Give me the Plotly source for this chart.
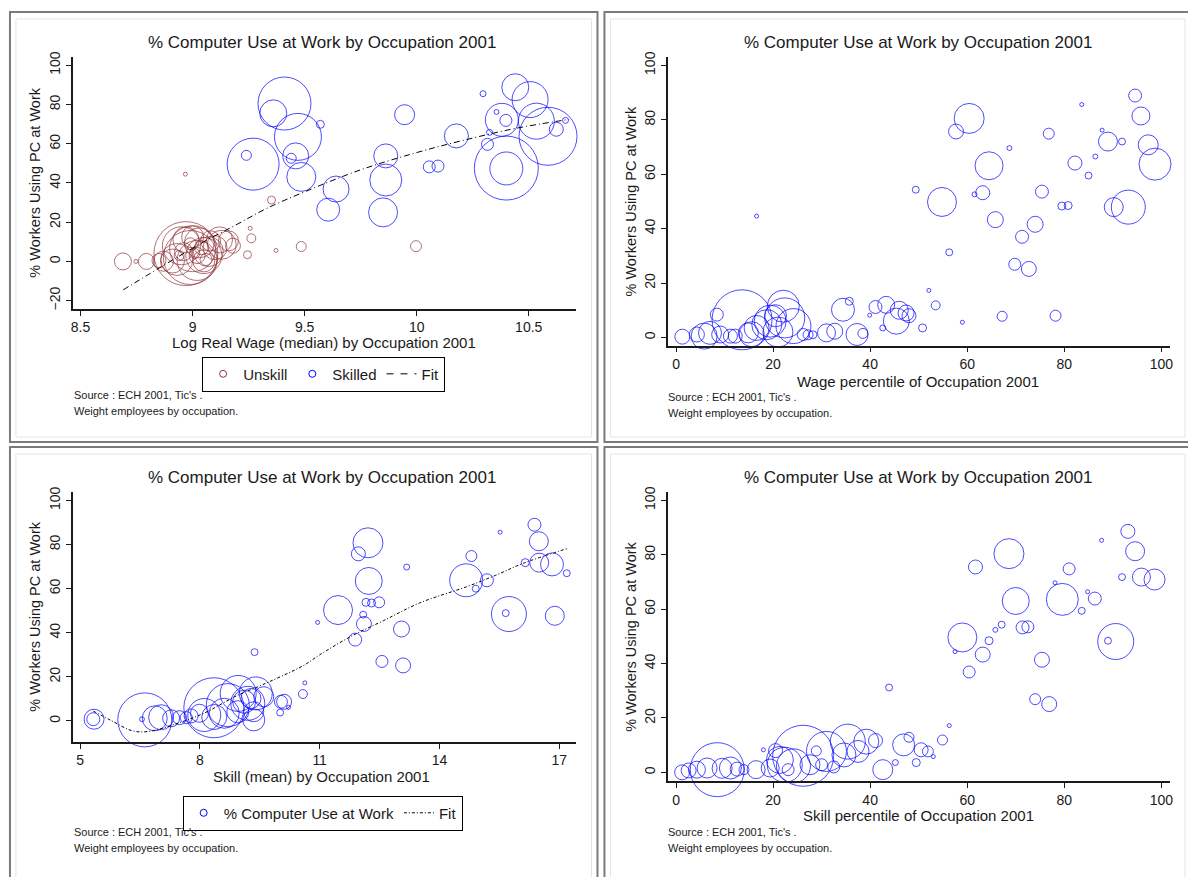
import plotly.graph_objects as go

W, H = 1188, 877
FONT = "Liberation Sans, Arial, sans-serif"
MAROON = "#90353b"
BLUE = "#0000ff"
INK = "#1a1a1a"

# ---------------- Panel 1: log real wage (split by skill group) ----------------
tl_sk_x = [9.41, 9.36, 9.47, 9.57, 9.27, 9.24, 9.46, 9.44, 9.485, 9.64,
           9.605, 9.862, 9.862, 9.85, 9.946, 10.056, 10.095, 10.177, 10.296, 10.356,
           10.44, 10.506, 10.38, 10.398, 10.534, 10.586, 10.40, 10.40, 10.623, 10.664,
           10.325, 10.316]
tl_sk_y = [80.5, 75.5, 63.5, 69.9, 49.6, 54.1, 53.8, 52.6, 43.1, 36.9,
           26.4, 53.8, 41.5, 25.0, 74.8, 48.2, 48.6, 64.0, 85.5, 76.2,
           88.8, 82.5, 72.2, 71.9, 71.5, 63.8, 47.6, 47.4, 67.4, 71.9,
           65.8, 59.7]
tl_sk_w = [702, 182, 552, 16, 676, 25, 169, 25, 210, 169,
           132, 144, 256, 210, 100, 36, 36, 144, 9, 6,
           182, 324, 272, 36, 324, 841, 1024, 272, 49, 9,
           9, 36]

tl_un_x = [8.968, 9.352, 9.257, 9.262, 9.245, 9.372, 9.485, 9.997, 8.689, 8.747,
           8.794, 8.97, 8.99, 9.00, 9.02, 8.95, 9.05, 8.93, 9.03, 9.07,
           8.97, 9.10, 8.91, 9.00, 9.05, 9.08, 8.96, 9.02, 9.04, 8.99,
           9.06, 9.01, 8.94, 9.12, 9.13, 9.18, 9.16, 8.87, 8.85]
tl_un_y = [44.5, 31.3, 16.9, 11.8, 3.4, 5.6, 7.6, 7.8, 0.0, 0.0,
           0.0, 4.0, 2.0, 6.5, 0.5, 8.0, 3.0, 1.0, 9.5, 5.0,
           11.0, 7.0, 0.2, 12.5, 0.3, 10.5, 5.0, 3.0, 7.0, 9.0,
           1.0, 4.0, 3.0, 11.0, 8.5, 8.0, 10.5, 0.1, 0.5]
tl_un_w = [4, 16, 4, 20, 16, 4, 25, 30, 72, 4,
           64, 1024, 729, 529, 400, 361, 324, 256, 225, 225,
           169, 144, 144, 121, 121, 100, 81, 64, 49, 36,
           36, 25, 25, 169, 210, 56, 100, 100, 49]

tl_fit_x = [8.69, 8.9, 9.05, 9.2, 9.33, 9.5, 9.75, 10.0, 10.2, 10.44, 10.68]
tl_fit_y = [-14.5, 0.0, 10.0, 19.0, 27.0, 35.5, 46.7, 55.5, 61.5, 67.8, 72.4]

# ---------------- Panel 2: wage percentile ----------------
tr_x = [60.4, 57.7, 68.7, 64.5, 63.2, 61.5, 49.4, 54.8, 65.8, 56.3,
        71.3, 74.0, 69.8, 72.7, 75.4, 76.8, 79.5, 80.8, 82.2, 83.6,
        85.0, 86.4, 87.8, 89.0, 91.9, 90.2, 93.2, 94.6, 95.8, 97.3,
        98.7, 16.6, 52.1, 53.5, 50.8, 59.0, 67.2, 78.2,
        1.3, 4.3, 5.8, 7.0, 8.4, 9.1, 11.2, 12.2, 13.6, 14.9,
        15.6, 16.6, 18.7, 19.4, 22.1, 22.4, 24.2, 21.0, 20.5, 26.2,
        27.2, 28.2, 31.0, 32.7, 34.4, 35.7, 37.3, 38.5, 39.9, 41.1,
        43.3, 42.6, 45.4, 46.0, 47.4, 48.0]
tr_y = [80.5, 75.7, 69.6, 63.1, 53.2, 52.6, 54.3, 49.8, 43.3, 31.3,
        37.0, 41.6, 26.9, 25.2, 53.6, 74.9, 48.3, 48.5, 64.1, 85.6,
        59.5, 66.5, 76.2, 72.0, 72.0, 47.9, 47.9, 88.9, 81.4, 70.8,
        63.7, 44.6, 17.3, 11.8, 3.5, 5.6, 7.8, 8.0,
        0.3, 1.1, 0.5, 1.7, 8.4, 1.1, 0.5, 0.5, 6.5, 1.7,
        1.2, 3.5, 4.7, 6.0, 11.5, 7.2, 4.2, 2.0, 8.0, 1.1,
        1.0, 1.0, 1.7, 2.3, 10.2, 13.3, 1.1, 1.5, 8.2, 11.2,
        12.0, 3.5, 6.0, 10.0, 9.0, 8.0]
tr_w = [225, 56, 6, 196, 49, 6, 12, 210, 64, 12,
        42, 64, 36, 56, 42, 30, 16, 16, 49, 4,
        12, 6, 2, 90, 12, 90, 289, 42, 81, 100,
        256, 2, 2, 20, 16, 2, 25, 30,
        56, 56, 169, 132, 42, 72, 49, 49, 900, 100,
        156, 156, 225, 256, 256, 400, 306, 225, 121, 36,
        25, 16, 81, 64, 132, 16, 121, 25, 2, 42,
        72, 9, 169, 81, 64, 49]

# ---------------- Panel 3: mean skill ----------------
bl_x = [16.38, 16.49, 15.52, 14.80, 16.15, 16.50, 16.82, 17.19, 14.67, 15.19,
        14.91, 15.74, 15.66, 16.89, 12.21, 11.97, 12.23, 13.18, 12.16, 12.30,
        12.49, 12.09, 12.11, 11.46, 11.89, 10.95, 13.05, 12.56, 13.09, 9.37,
        10.63, 10.58, 10.11, 10.01, 10.22,
        5.35, 5.33, 6.62, 6.55, 6.87, 7.03, 7.28, 7.49, 7.66, 7.78,
        7.99, 8.35, 8.11, 8.36, 8.61, 8.70, 8.95, 9.28, 9.40, 9.11,
        9.35, 9.60, 9.35, 10.03, 8.96, 9.20]
bl_y = [89.0, 81.5, 85.6, 74.8, 71.8, 71.8, 71.0, 67.0, 63.8, 63.8,
        60.0, 48.5, 48.9, 47.7, 80.8, 75.8, 63.5, 69.8, 53.8, 53.5,
        53.8, 48.2, 44.0, 50.3, 36.9, 44.7, 41.7, 27.0, 25.2, 31.2,
        17.3, 12.2, 8.7, 3.8, 6.2,
        0.8, 0.8, 0.5, 0.8, 1.2, 1.7, 1.2, 1.5, 1.5, 2.3,
        3.5, 6.0, 2.7, 1.8, 3.5, 7.2, 4.2, 10.2, 12.5, 8.7,
        4.2, 11.0, 0.5, 8.7, 12.5, 8.0]
bl_w = [42, 90, 4, 30, 16, 90, 132, 12, 272, 42,
        12, 306, 12, 90, 225, 49, 182, 9, 16, 16,
        30, 12, 56, 210, 42, 2, 64, 36, 56, 12,
        4, 20, 56, 12, 4,
        100, 42, 729, 6, 156, 156, 72, 49, 36, 49,
        81, 900, 272, 156, 225, 462, 121, 100, 272, 132,
        100, 100, 121, 42, 324, 289]

bl_fit_x = [5.33, 5.8, 6.3, 6.7, 7.45, 8.1, 8.95, 9.45, 10.6, 11.0,
            11.8, 12.6, 13.5, 14.7, 15.4, 16.1, 17.2]
bl_fit_y = [4.5, 0.0, -4.4, -4.8, -1.0, 3.5, 11.7, 15.5, 25.2, 30.0,
            38.5, 45.5, 53.5, 61.0, 66.0, 71.5, 78.2]

# ---------------- Panel 4: skill percentile ----------------
br_x = [68.6, 61.7, 93.1, 94.6, 87.7, 81.0, 78.1, 91.9, 95.9, 98.6,
        70.0, 79.6, 86.3, 84.8, 83.6, 71.4, 72.5, 67.1, 65.8, 64.5,
        59.0, 57.5, 63.2, 60.4, 75.4, 90.6, 89.0, 74.0, 76.9, 43.9,
        56.3, 54.9, 51.9, 50.5, 49.5, 53.0, 48.0, 46.9, 45.2, 42.6,
        41.1, 39.2, 37.5, 35.4, 34.6, 32.5, 31.0, 30.0, 28.9, 27.6,
        26.2, 24.2, 23.1, 22.4, 21.4, 20.5, 19.4, 18.0, 16.5, 14.0,
        12.6, 11.2, 9.5, 8.5, 6.4, 4.3, 2.6, 1.25]
br_y = [80.4, 75.5, 88.6, 81.3, 85.3, 74.8, 69.7, 71.8, 71.8, 70.9,
        63.0, 63.6, 63.9, 66.4, 59.4, 53.3, 53.5, 54.3, 52.4, 48.4,
        49.6, 44.4, 43.3, 36.9, 41.4, 48.1, 48.4, 26.9, 25.1, 31.2,
        17.2, 11.9, 7.7, 8.3, 3.6, 5.8, 12.9, 10.1, 3.6, 1.0,
        11.7, 11.3, 7.7, 11.3, 6.4, 2.0, 7.7, 2.8, 7.9, 2.8,
        6.1, 2.4, 1.0, 2.8, 4.6, 8.0, 1.6, 8.3, 1.0, 1.0,
        1.2, 1.6, 1.5, 1.0, 1.6, 1.0, 0.7, 0.0]
br_w = [225, 49, 49, 90, 2, 36, 4, 12, 81, 110,
        182, 256, 42, 2, 12, 42, 36, 12, 6, 16,
        210, 2, 56, 36, 56, 324, 12, 30, 56, 12,
        2, 25, 30, 49, 16, 4, 25, 121, 9, 100,
        49, 156, 121, 306, 144, 36, 400, 36, 25, 100,
        930, 289, 36, 306, 182, 49, 81, 2, 81, 25,
        49, 121, 100, 729, 100, 72, 56, 56]

# ---------------- text ----------------
title_txt = "% Computer Use at Work by Occupation 2001"
ytitle_txt = "% Workers Using PC at Work"
xtitles = ["Log Real Wage (median) by Occupation 2001",
           "Wage percentile of Occupation 2001",
           "Skill (mean) by Occupation 2001",
           "Skill percentile of Occupation 2001"]
note1 = "Source : ECH 2001, Tic's ."
note2 = "Weight employees by occupation."

def px(x):
    return x / W

def py(y):
    return 1 - y / H

fig = go.Figure()

def bubbles(x, y, w, color, xa, ya):
    fig.add_trace(go.Scatter(
        x=x, y=y, mode="markers", xaxis=xa, yaxis=ya, showlegend=False,
        cliponaxis=False, hoverinfo="skip",
        marker=dict(symbol="circle-open", size=w, sizemode="area", sizeref=0.5,
                    sizemin=2, color=color, line=dict(width=1, color=color))))

def fitline(x, y, xa, ya, dash):
    fig.add_trace(go.Scatter(
        x=x, y=y, mode="lines", xaxis=xa, yaxis=ya, showlegend=False,
        cliponaxis=False, hoverinfo="skip",
        line=dict(color="black", width=1, dash=dash, shape="spline")))

def legend_item(name, kind, color, legend, dash=None):
    if kind == "marker":
        fig.add_trace(go.Scatter(
            x=[None], y=[None], mode="markers", name=name, legend=legend,
            marker=dict(symbol="circle-open", size=7, color=color,
                        line=dict(width=1, color=color))))
    else:
        fig.add_trace(go.Scatter(
            x=[None], y=[None], mode="lines", name=name, legend=legend,
            line=dict(color="black", width=1, dash=dash)))

TL_DASH = "6px,3px,1px,3px"
BL_DASH = "3px,2px,1px,2px"

bubbles(tl_un_x, tl_un_y, tl_un_w, MAROON, "x", "y")
bubbles(tl_sk_x, tl_sk_y, tl_sk_w, BLUE, "x", "y")
fitline(tl_fit_x, tl_fit_y, "x", "y", TL_DASH)
bubbles(tr_x, tr_y, tr_w, BLUE, "x2", "y2")
bubbles(bl_x, bl_y, bl_w, BLUE, "x3", "y3")
fitline(bl_fit_x, bl_fit_y, "x3", "y3", BL_DASH)
bubbles(br_x, br_y, br_w, BLUE, "x4", "y4")

legend_item("Unskill", "marker", MAROON, "legend")
legend_item("Skilled", "marker", BLUE, "legend")
legend_item("Fit", "line", None, "legend", dash="7px,7px")
legend_item("% Computer Use at Work", "marker", BLUE, "legend2")
legend_item("Fit", "line", None, "legend2", dash=BL_DASH)

def axis(domain, rng, tickvals, ticktext, angle, anchor):
    return dict(domain=domain, range=rng, tickvals=tickvals, ticktext=ticktext,
                showline=True, linecolor=INK, linewidth=1.5, ticks="outside",
                ticklen=5, tickwidth=1, tickcolor=INK, showgrid=False,
                zeroline=False, tickangle=angle, anchor=anchor, fixedrange=True,
                tickfont=dict(family=FONT, size=14, color=INK))

xl = [px(70.8), px(576)]
xr = [px(668.6), px(1173)]
yticks100 = [0, 20, 40, 60, 80, 100]
pct_ticks = [0, 20, 40, 60, 80, 100]

layout = dict(
    width=W, height=H, margin=dict(l=0, r=0, t=0, b=0),
    paper_bgcolor="white", plot_bgcolor="white",
    font=dict(family=FONT, color=INK),
    xaxis=axis(xl, [8.464, 10.709], [8.5, 9, 9.5, 10, 10.5],
               ["8.5", "9", "9.5", "10", "10.5"], 0, "y"),
    yaxis=axis([py(306), py(52)], [-24.2, 104.4], [-20, 0, 20, 40, 60, 80, 100],
               None, -90, "x"),
    xaxis2=axis(xr, [-1.7, 101.8], pct_ticks, None, 0, "y2"),
    yaxis2=axis([py(343), py(52)], [-3.0, 103.2], yticks100, None, -90, "x2"),
    xaxis3=axis(xl, [4.81, 17.41], [5, 8, 11, 14, 17], None, 0, "y3"),
    yaxis3=axis([py(742), py(490)], [-9.5, 104], yticks100, None, -90, "x3"),
    xaxis4=axis(xr, [-1.7, 101.8], pct_ticks, None, 0, "y4"),
    yaxis4=axis([py(781.7), py(490)], [-3.3, 103.2], yticks100, None, -90, "x4"),
    legend=dict(x=px(323), y=py(354), xanchor="center", yanchor="top",
                orientation="h", bordercolor="black", borderwidth=1,
                bgcolor="white", font=dict(family=FONT, size=15, color=INK),
                itemwidth=30, tracegroupgap=0),
    legend2=dict(x=px(322), y=py(796), xanchor="center", yanchor="top",
                 orientation="h", bordercolor="black", borderwidth=1,
                 bgcolor="white", font=dict(family=FONT, size=15, color=INK),
                 itemwidth=30, tracegroupgap=0),
    showlegend=True,
)
fig.update_layout(**layout)

ann = []
# (title cx, title y, ytitle x, plot top, plot bottom, xtitle cx, xtitle y, note x, note y1)
panels = [
    (321, 38, 33, 52, 306, 323, 340, 70, 393),
    (920, 38, 632, 52, 343, 920, 379, 667, 395),
    (321, 476, 33, 490, 742, 321, 777, 70, 833),
    (920, 476, 632, 490, 781.7, 920, 816, 667, 833),
]
for i, (tcx, ty, yx, top, bot, xcx, xty, nx, ny) in enumerate(panels):
    ann.append(dict(x=px(tcx), y=py(ty), xref="paper", yref="paper", text=title_txt,
                    showarrow=False, xanchor="center", yanchor="middle",
                    font=dict(family=FONT, size=17, color=INK)))
    ann.append(dict(x=px(yx), y=py((top + bot) / 2), xref="paper", yref="paper",
                    text=ytitle_txt, textangle=-90, showarrow=False,
                    xanchor="center", yanchor="middle",
                    font=dict(family=FONT, size=14.5, color=INK)))
    ann.append(dict(x=px(xcx), y=py(xty), xref="paper", yref="paper", text=xtitles[i],
                    showarrow=False, xanchor="center", yanchor="middle",
                    font=dict(family=FONT, size=15, color=INK)))
    ann.append(dict(x=px(nx), y=py(ny), xref="paper", yref="paper", text=note1,
                    showarrow=False, xanchor="left", yanchor="middle",
                    font=dict(family=FONT, size=11, color=INK)))
    ann.append(dict(x=px(nx), y=py(ny + 16), xref="paper", yref="paper", text=note2,
                    showarrow=False, xanchor="left", yanchor="middle",
                    font=dict(family=FONT, size=11, color=INK)))

shapes = []
frames = [(8, 7, 598, 440), (605, 7, 1194, 440), (8, 445, 598, 884), (605, 445, 1194, 884)]
for (x0, y0, x1, y1) in frames:
    shapes.append(dict(type="rect", xref="paper", yref="paper",
                       x0=px(x0), x1=px(x1), y0=py(y1), y1=py(y0),
                       line=dict(color="#7a7a7a", width=2), fillcolor="rgba(0,0,0,0)",
                       layer="below"))
    shapes.append(dict(type="rect", xref="paper", yref="paper",
                       x0=px(x0 + 6), x1=px(x1 - 6), y0=py(y1 - 5), y1=py(y0 + 7),
                       line=dict(color="#dfe7ee", width=1), fillcolor="rgba(0,0,0,0)",
                       layer="below"))

fig.update_layout(annotations=ann, shapes=shapes)
fig.write_html("out.html")
